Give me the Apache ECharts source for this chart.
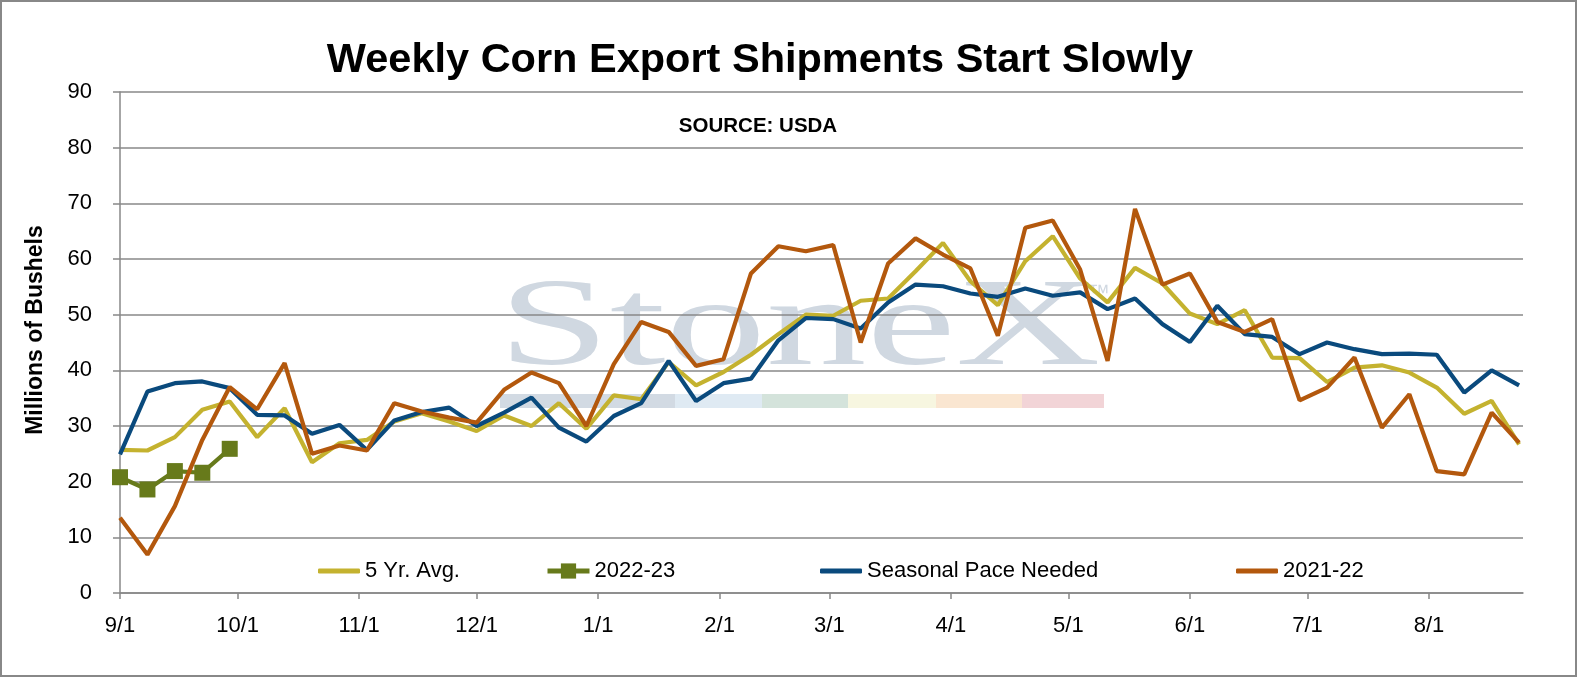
<!DOCTYPE html>
<html>
<head>
<meta charset="utf-8">
<script src="https://cdn.jsdelivr.net/npm/echarts@6/dist/echarts.min.js"></script>
<style>
html,body{margin:0;padding:0;background:#fff;}
#chart{width:1577px;height:677px;}
</style>
</head>
<body>
<div id="chart"></div>
<script>
// Tick labels (month starts) and their day offsets from 9/1
var monthLabels = ['9/1','10/1','11/1','12/1','1/1','2/1','3/1','4/1','5/1','6/1','7/1','8/1'];
var monthDays = [0,30,61,91,122,153,181,212,242,273,303,334];

// Weekly values, millions of bushels (one value per week starting 9/1)
var fiveYrAvg = [25.7,25.6,28,32.9,34.4,28,33.2,23.5,26.9,27.5,
  30.8,32.3,30.8,29.1,31.9,30,34.1,29.5,35.5,34.8,
  41.5,37.3,39.7,42.8,46.5,50,49.8,52.5,52.9,57.8,
  62.9,56,51.7,59.6,64.1,56.5,52.2,58.4,55.6,50.2,
  48.3,50.8,42.3,42.2,37.9,40.5,40.9,39.6,36.9,32.2,
  34.5,26.7];
var y2022_23 = [20.8,18.6,21.9,21.6,25.9];
var seasonalPace = [24.9,36.2,37.7,38,36.8,32,31.9,28.6,30.2,25.7,
  31,32.5,33.3,30,32.4,35.1,29.7,27.2,31.8,34.1,
  41.7,34.5,37.7,38.5,45.4,49.4,49.2,47.5,52.2,55.4,
  55.1,53.8,53.2,54.7,53.4,54,51,52.9,48.3,45.1,
  51.6,46.5,46,42.9,45,43.8,42.9,43,42.8,36,
  40,37.3];
var y2021_22 = [13.5,6.9,15.6,27.5,37,33,41.3,25,26.5,25.6,
  34.1,32.6,31.5,30.6,36.5,39.6,37.7,30,41.1,48.7,
  46.9,40.8,42,57.4,62.3,61.4,62.5,45,59.2,63.7,
  60.8,58.3,46.2,65.6,66.9,58.1,41.7,69,55.4,57.4,
  48.7,46.9,49.2,34.6,36.9,42.3,29.7,35.7,21.9,21.3,
  32.4,27];

var seriesNames = ['5 Yr. Avg.','2022-23','Seasonal Pace Needed','2021-22'];
var seriesColors = ['#c4b22f','#677a1b','#0a4a7d','#b3580d'];

function weekly(arr){ return arr.map(function(v,i){ return [i*7, v]; }); }

var FONT = '"Liberation Sans", Arial, sans-serif';
var GRAY = '#888888';

var chart = echarts.init(document.getElementById('chart'), null, {renderer:'canvas'});

function lineLegend(name, left){
  return {
    data:[{name:name, icon:'roundRect'}], left:left, top:560, padding:0,
    itemWidth:42, itemHeight:5, itemGap:5,
    textStyle:{fontFamily:FONT, fontSize:22, color:'#000'}
  };
}

var option = {
  animation:false,
  backgroundColor:'#fff',
  title:[
    {text:'Weekly Corn Export Shipments Start Slowly', left:755, top:35, textAlign:'center',
     textStyle:{fontFamily:FONT, fontSize:41.5, fontWeight:'bold', color:'#000'}},
    {text:'SOURCE: USDA', left:753, top:111, textAlign:'center',
     textStyle:{fontFamily:FONT, fontSize:20.5, fontWeight:'bold', color:'#000'}}
  ],
  legend:[
    lineLegend(seriesNames[0], 318),
    {data:[seriesNames[1]], left:545, top:560, padding:0, itemWidth:42, itemHeight:19, itemGap:5,
     lineStyle:{width:5, color:seriesColors[1]},
     textStyle:{fontFamily:FONT, fontSize:22, color:'#000'}},
    lineLegend(seriesNames[2], 820),
    lineLegend(seriesNames[3], 1236)
  ],
  graphic:[
    {type:'rect', z:-10, silent:true, shape:{x:1,y:1,width:1575,height:675},
     style:{fill:null, stroke:GRAY, lineWidth:2}},
    {type:'text', z:-10, silent:true, x:498, y:331, scaleX:1.62, scaleY:1,
     style:{text:'StoneX', x:0, y:0, font:'124px "Liberation Serif", serif', fill:'#d0d8e1', align:'left', verticalAlign:'middle'}},
    {type:'text', z:-10, silent:true, x:1088, y:294,
     style:{text:'\u2122', x:0, y:0, font:'22px "Liberation Sans", sans-serif', fill:'#d0d8e1', align:'left', verticalAlign:'middle'}},
    {type:'rect', z:-10, silent:true, shape:{x:500,y:394,width:175,height:14}, style:{fill:'#d2dae3'}},
    {type:'rect', z:-10, silent:true, shape:{x:675,y:394,width:87,height:14}, style:{fill:'#dfeaf3'}},
    {type:'rect', z:-10, silent:true, shape:{x:762,y:394,width:86,height:14}, style:{fill:'#d4e3db'}},
    {type:'rect', z:-10, silent:true, shape:{x:848,y:394,width:88,height:14}, style:{fill:'#f7f6e0'}},
    {type:'rect', z:-10, silent:true, shape:{x:936,y:394,width:86,height:14}, style:{fill:'#fae6d1'}},
    {type:'rect', z:-10, silent:true, shape:{x:1022,y:394,width:82,height:14}, style:{fill:'#f2d4d7'}}
  ],
  grid:{left:120, right:54, top:92, bottom:84, containLabel:false},
  xAxis:{
    type:'value', min:0, max:358,
    axisLine:{show:true, lineStyle:{color:GRAY, width:1.5}},
    axisTick:{show:true, length:6, customValues:monthDays, lineStyle:{color:GRAY, width:1.5}},
    axisLabel:{customValues:monthDays, margin:22, fontFamily:FONT, fontSize:22, color:'#000',
      formatter:function(v){ var k = monthDays.indexOf(v); return k>=0 ? monthLabels[k] : ''; }},
    splitLine:{show:false}
  },
  yAxis:{
    type:'value', min:0, max:90, interval:10,
    name:'Millions of Bushels', nameLocation:'middle', nameGap:73,
    nameTextStyle:{fontFamily:FONT, fontSize:23, fontWeight:'bold', color:'#000', padding:[0,0,0,25]},
    axisLine:{show:true, lineStyle:{color:GRAY, width:1.5}},
    axisTick:{show:true, length:7, lineStyle:{color:GRAY, width:1.5}},
    axisLabel:{margin:28, fontFamily:FONT, fontSize:22, color:'#000'},
    splitLine:{show:true, lineStyle:{color:GRAY, width:1.5}}
  },
  series:[
    {name:seriesNames[0], type:'line', data:weekly(fiveYrAvg), symbol:'none', color:seriesColors[0],
     lineStyle:{width:4.2, color:seriesColors[0]}},
    {name:seriesNames[1], type:'line', data:weekly(y2022_23), symbol:'rect', symbolSize:16, color:seriesColors[1],
     itemStyle:{color:seriesColors[1]}, lineStyle:{width:4.2, color:seriesColors[1]}},
    {name:seriesNames[2], type:'line', data:weekly(seasonalPace), symbol:'none', color:seriesColors[2],
     lineStyle:{width:4.2, color:seriesColors[2]}},
    {name:seriesNames[3], type:'line', data:weekly(y2021_22), symbol:'none', color:seriesColors[3],
     lineStyle:{width:4.2, color:seriesColors[3]}}
  ]
};
chart.setOption(option);
</script>
</body>
</html>
